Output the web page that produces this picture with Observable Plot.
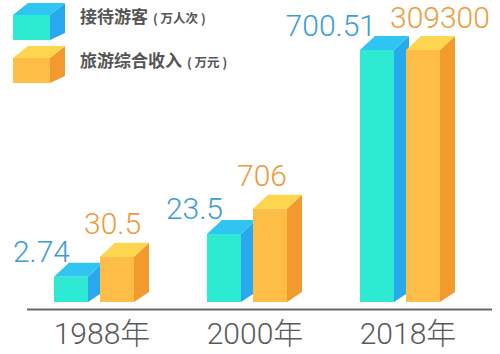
<!DOCTYPE html>
<html><head><meta charset="utf-8">
<script src="https://cdn.jsdelivr.net/npm/d3@7"></script>
<script src="https://cdn.jsdelivr.net/npm/@observablehq/plot@0.6"></script>
<style>
html,body{margin:0;padding:0;background:#fff;}
#wrap{position:relative;width:500px;height:354px;overflow:hidden;}
#legend{position:absolute;left:0;top:0;width:260px;height:90px;}
.lg-text{position:absolute;left:80px;font-family:"Noto Sans CJK SC","Noto Sans",sans-serif;font-weight:700;color:#555;font-size:17px;white-space:nowrap;line-height:1;}
.lg-text span{font-size:12.5px;margin-left:5px;}
g[aria-label="year"] text{letter-spacing:2px;}
</style></head>
<body><div id="wrap"><div id="chart"></div><div id="legend"></div></div>
<script>
// ---- data ----
const years = ["1988年", "2000年", "2018年"];
const seriesNames = ["接待游客", "旅游综合收入"];
const seriesUnits = ["( 万人次 )", "( 万元 )"];
const visitorValues = [2.74, 23.5, 700.51];     // 万人次
const revenueValues = [30.5, 706, 309300];      // 万元
// the picture is not drawn to scale: drawn bar height as % of the tallest bar
const visitorBarIndex = [10, 27, 100];
const revenueBarIndex = [18, 37, 100];

const palette = [
  {front: "#2eead2", side: "#28a9ee", top: "#30c4f2", label: "#3b9cd8"},
  {front: "#fdbd46", side: "#f29a2d", top: "#fed54e", label: "#eb9b3b"}
];

const rows = [];
years.forEach((year, i) => {
  rows.push({year, series: 0, value: visitorValues[i], h: visitorBarIndex[i]});
  rows.push({year, series: 1, value: revenueValues[i], h: revenueBarIndex[i]});
});

// 3D cube mark drawn through Plot's x and y scales
function cubes(index, scales) {
  const x = scales.x, y = scales.y;
  let bw = typeof x.bandwidth === "function" ? x.bandwidth() : 0;
  if (!bw) bw = x(years[1]) - x(years[0]);
  const W = 34, GAP = 12, DX = 15, DY = 14, DYB = 10;
  const groupW = 2 * W + GAP + DX;
  const g = d3.create("svg:g");
  const base = y(0);
  for (const r of rows) {
    const c = x(r.year) + bw / 2;
    const L = c - groupW / 2 + r.series * (W + GAP);
    const R = L + W;
    const T = y(r.h);
    const col = palette[r.series];
    g.append("polygon").attr("fill", col.side)
      .attr("points", [[R, base], [R, T], [R + DX, T - DY], [R + DX, base - DYB]].join(" "));
    g.append("polygon").attr("fill", col.top)
      .attr("points", [[L, T], [L + DX, T - DY], [R + DX, T - DY], [R, T]].join(" "));
    g.append("rect").attr("fill", col.front)
      .attr("x", L).attr("y", T).attr("width", W).attr("height", base - T);
  }
  return g.node();
}

const chart = Plot.plot({
  width: 500,
  height: 354,
  marginTop: 50,
  marginBottom: 52,
  marginLeft: 27,
  marginRight: 8,
  x: {type: "band", domain: years, range: [24, 484], padding: 0, axis: null},
  y: {domain: [0, 100], axis: null},
  style: {fontFamily: "Roboto, 'Noto Sans CJK SC', sans-serif", background: "white", overflow: "visible"},
  marks: [
    Plot.ruleY([0], {dy: 7, stroke: "#666", strokeWidth: 2}),
    cubes,
    Plot.text(rows.filter(d => d.series === 0), {
      x: "year", y: "h", text: d => String(d.value),
      textAnchor: "end", lineAnchor: "bottom", dx: -32, dy: -15,
      fill: palette[0].label, fontSize: 30, fontWeight: 300
    }),
    Plot.text(rows.filter(d => d.series === 1), {
      x: "year", y: "h", text: d => String(d.value),
      textAnchor: "start", lineAnchor: "bottom", dx: -18, dy: -23,
      fill: palette[1].label, fontSize: 30, fontWeight: 300
    }),
    Plot.text(years, {
      x: d => d, text: d => d, frameAnchor: "bottom", lineAnchor: "bottom",
      dy: 41, fontSize: 30, fontWeight: 300, fill: "#595959", ariaLabel: "year"
    })
  ]
});
document.getElementById("chart").appendChild(chart);

// legend
const legend = document.getElementById("legend");
const cubeSvg = (col, top) => {
  const f = top + 12;
  return `<svg width="70" height="40" style="position:absolute;left:0;top:${top - 3}px" viewBox="0 ${top - 3} 70 40">
    <polygon fill="${col.side}" points="50,${f} 65,${f - 12} 65,${f + 18} 50,${f + 25}"/>
    <polygon fill="${col.top}" points="13,${f} 28,${f - 12} 65,${f - 12} 50,${f}"/>
    <rect fill="${col.front}" x="13" y="${f}" width="37" height="25"/>
  </svg>`;
};
legend.innerHTML =
  cubeSvg(palette[0], 3) +
  cubeSvg(palette[1], 46) +
  `<div class="lg-text" style="top:7px">${seriesNames[0]}<span>${seriesUnits[0]}</span></div>` +
  `<div class="lg-text" style="top:51px">${seriesNames[1]}<span>${seriesUnits[1]}</span></div>`;
</script>
</body></html>
